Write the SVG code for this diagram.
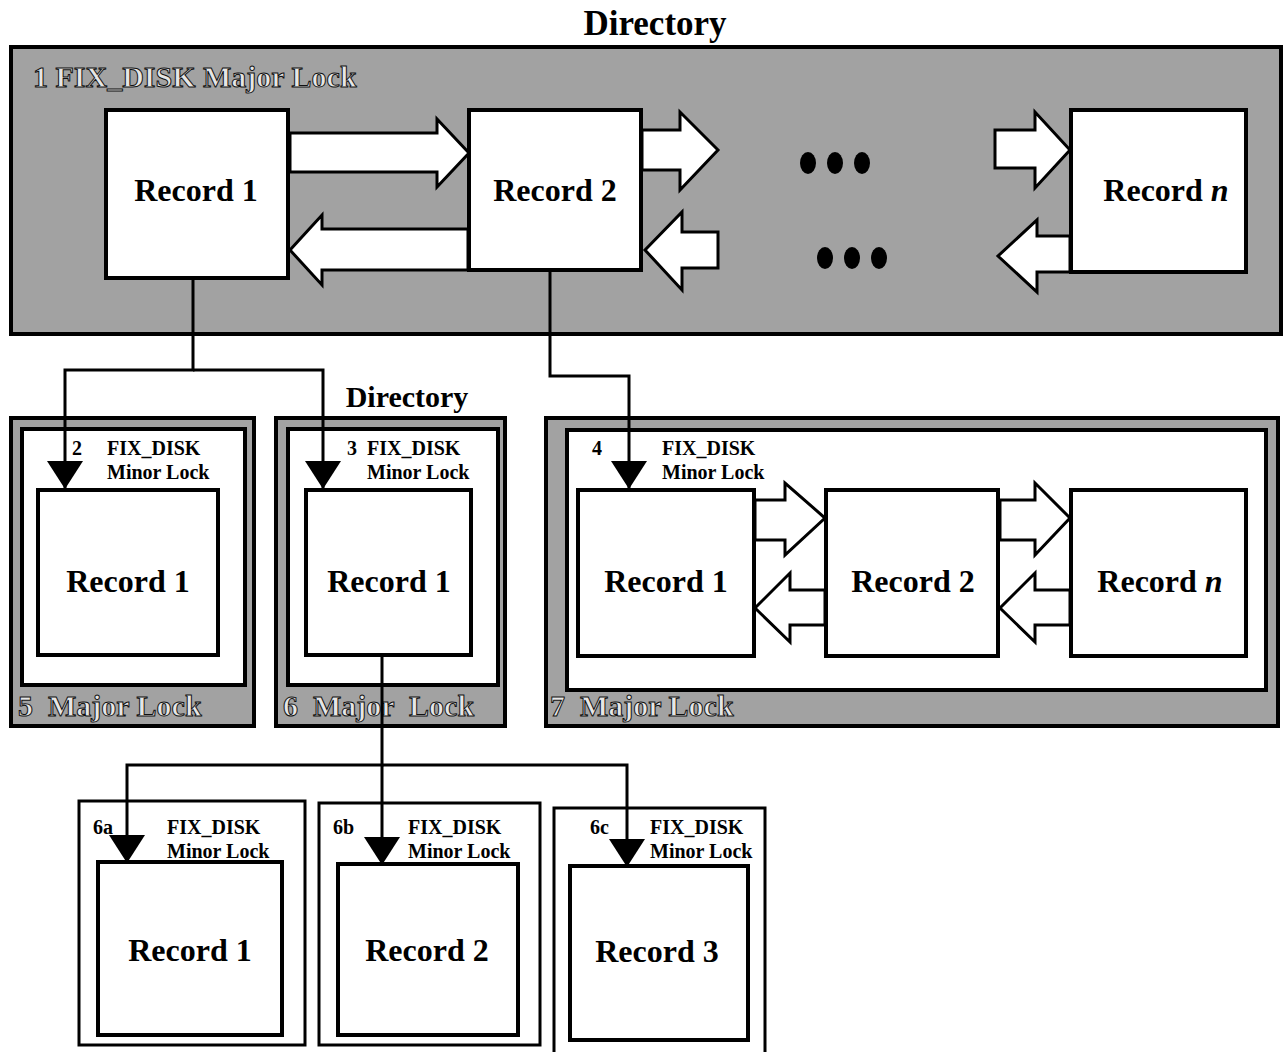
<svg xmlns="http://www.w3.org/2000/svg" width="1284" height="1052" viewBox="0 0 1284 1052">
<style>
text{font-family:"Liberation Serif","Times New Roman",serif;font-weight:bold;fill:#000}
.gray{fill:#a2a2a2;stroke:#000;stroke-width:4}
.frame{fill:#fff;stroke:#000;stroke-width:4}
.rec{fill:#fff;stroke:#000;stroke-width:4}
.box{fill:#fff;stroke:#000;stroke-width:3}
.rt{font-size:32px;text-anchor:middle}
.lk{font-size:20px}
.maj{font-size:30px;fill:#e6e6e6;stroke:#111;stroke-width:1}
.dbl{fill:#fff;stroke:#000;stroke-width:3;stroke-linejoin:miter}
.con{fill:none;stroke:#000;stroke-width:3}
.dot{fill:#000}
</style>
<defs>
<marker id="ah" viewBox="0 0 28 36" refX="27" refY="18" markerWidth="28" markerHeight="36" markerUnits="userSpaceOnUse" orient="auto">
<path d="M0,0 L28,18 L0,36 z" fill="#000"/>
</marker>
</defs>
<rect width="1284" height="1052" fill="#fff"/>
<text x="655" y="35" font-size="35" text-anchor="middle">Directory</text>

<g id="dir1">
<rect class="gray" x="11" y="47" width="1270" height="287"/>
<text class="maj" x="33" y="87" font-size="33">1 FIX_DISK Major Lock</text>
</g>
<g id="d1-rec1">
<rect class="rec" x="106" y="110" width="182" height="168"/>
<text class="rt" x="196" y="201">Record 1</text>
</g>
<g id="d1-rec2">
<rect class="rec" x="469" y="110" width="172" height="160"/>
<text class="rt" x="555" y="201">Record 2</text>
</g>
<g id="d1-recn">
<rect class="rec" x="1071" y="110" width="175" height="162"/>
<text class="rt" x="1166" y="201">Record <tspan font-style="italic">n</tspan></text>
</g>
<g id="d1-arrows">
<polygon class="dbl" points="290,133 437,133 437,119 469,153 437,187 437,172 290,172"/>
<polygon class="dbl" points="468,229 322,229 322,215 290,250 322,285 322,270 468,270"/>
<polygon class="dbl" points="642,130 680,130 680,112 718,150 680,190 680,170 642,170"/>
<polygon class="dbl" points="718,232 682,232 682,212 645,250 682,290 682,268 718,268"/>
<polygon class="dbl" points="995,130 1035,130 1035,112 1070,150 1035,188 1035,168 995,168"/>
<polygon class="dbl" points="1070,236 1037,236 1037,220 998,256 1037,292 1037,272 1070,272"/>
</g>
<g id="dots">
<ellipse class="dot" cx="808" cy="163" rx="8" ry="11"/>
<ellipse class="dot" cx="835" cy="163" rx="8" ry="11"/>
<ellipse class="dot" cx="862" cy="163" rx="8" ry="11"/>
<ellipse class="dot" cx="825" cy="258" rx="8" ry="11"/>
<ellipse class="dot" cx="852" cy="258" rx="8" ry="11"/>
<ellipse class="dot" cx="879" cy="258" rx="8" ry="11"/>
</g>

<text x="407" y="407" font-size="30" text-anchor="middle">Directory</text>

<g id="box5">
<rect class="gray" x="11" y="418" width="243" height="308"/>
<rect class="frame" x="22" y="429" width="223" height="256"/>
<rect class="rec" x="38" y="490" width="180" height="165"/>
<text class="rt" x="128" y="592">Record 1</text>
<text class="lk" x="72" y="455">2</text>
<text class="lk" x="107" y="455">FIX_DISK</text>
<text class="lk" x="107" y="479">Minor Lock</text>
<text class="maj" x="18" y="716" xml:space="preserve">5  Major Lock</text>
</g>

<g id="box6">
<rect class="gray" x="276" y="418" width="229" height="308"/>
<rect class="frame" x="288" y="429" width="210" height="256"/>
<rect class="rec" x="306" y="490" width="165" height="165"/>
<text class="rt" x="389" y="592">Record 1</text>
<text class="lk" x="347" y="455">3</text>
<text class="lk" x="367" y="455">FIX_DISK</text>
<text class="lk" x="367" y="479">Minor Lock</text>
<text class="maj" x="283" y="716" xml:space="preserve">6  Major  Lock</text>
</g>

<g id="box7">
<rect class="gray" x="546" y="418" width="732" height="308"/>
<rect class="frame" x="567" y="430" width="699" height="260"/>
<text class="lk" x="592" y="455">4</text>
<text class="lk" x="662" y="455">FIX_DISK</text>
<text class="lk" x="662" y="479">Minor Lock</text>
<text class="maj" x="550" y="716" xml:space="preserve">7  Major Lock</text>
</g>
<g id="b7-rec1">
<rect class="rec" x="578" y="490" width="176" height="166"/>
<text class="rt" x="666" y="592">Record 1</text>
</g>
<g id="b7-rec2">
<rect class="rec" x="826" y="490" width="172" height="166"/>
<text class="rt" x="913" y="592">Record 2</text>
</g>
<g id="b7-recn">
<rect class="rec" x="1071" y="490" width="175" height="166"/>
<text class="rt" x="1160" y="592">Record <tspan font-style="italic">n</tspan></text>
</g>
<g id="b7-arrows">
<polygon class="dbl" points="755,500 785,500 785,483 825,518 785,555 785,540 755,540"/>
<polygon class="dbl" points="825,590 790,590 790,573 755,608 790,642 790,625 825,625"/>
<polygon class="dbl" points="1000,500 1035,500 1035,483 1070,518 1035,555 1035,540 1000,540"/>
<polygon class="dbl" points="1070,590 1035,590 1035,573 1000,608 1035,642 1035,625 1070,625"/>
</g>

<g id="box6a">
<rect class="box" x="79" y="801" width="226" height="244"/>
<rect class="rec" x="98" y="862" width="184" height="173"/>
<text class="rt" x="190" y="961">Record 1</text>
<text class="lk" x="93" y="834">6a</text>
<text class="lk" x="167" y="834">FIX_DISK</text>
<text class="lk" x="167" y="858">Minor Lock</text>
</g>
<g id="box6b">
<rect class="box" x="319" y="803" width="221" height="242"/>
<rect class="rec" x="338" y="864" width="180" height="171"/>
<text class="rt" x="427" y="961">Record 2</text>
<text class="lk" x="333" y="834">6b</text>
<text class="lk" x="408" y="834">FIX_DISK</text>
<text class="lk" x="408" y="858">Minor Lock</text>
</g>
<g id="box6c">
<rect class="box" x="554" y="808" width="211" height="248"/>
<rect class="rec" x="570" y="866" width="178" height="174"/>
<text class="rt" x="657" y="962">Record 3</text>
<text class="lk" x="590" y="834">6c</text>
<text class="lk" x="650" y="834">FIX_DISK</text>
<text class="lk" x="650" y="858">Minor Lock</text>
</g>

<g id="connectors">
<path class="con" d="M193,278 V370 H65 V488" marker-end="url(#ah)"/>
<path class="con" d="M193,370 H323 V488" marker-end="url(#ah)"/>
<path class="con" d="M550,270 V376 H629 V488" marker-end="url(#ah)"/>
<path class="con" d="M382,655 V765 H127 V862" marker-end="url(#ah)"/>
<path class="con" d="M382,765 V864" marker-end="url(#ah)"/>
<path class="con" d="M382,765 H627 V866" marker-end="url(#ah)"/>
</g>
</svg>
